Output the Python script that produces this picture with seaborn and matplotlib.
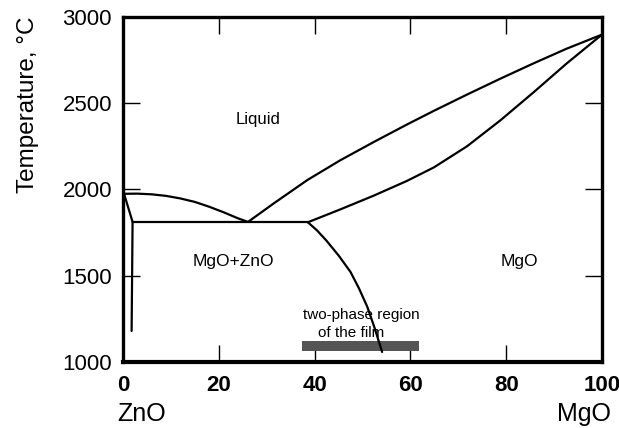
import matplotlib
matplotlib.use("Agg")
import matplotlib.pyplot as plt
import matplotlib.transforms as mtransforms
import seaborn as sns

# ZnO-MgO phase diagram: composition (mol% MgO) vs temperature (deg C)

# Liquidus on the ZnO-rich side (down to the eutectic)
liq_zno_x = [0, 3, 6, 9, 12, 15, 18, 21, 24, 26.1]
liq_zno_T = [1975, 1976, 1972, 1963, 1948, 1928, 1900, 1868, 1833, 1812]

# Liquidus on the MgO-rich side
liq_mgo_x = [26.1, 31.5, 38.5, 45.4, 52.4, 59.3, 64.9, 71.8, 78.75, 85.7, 92.6, 100]
liq_mgo_T = [1812, 1920, 2055, 2170, 2276, 2377, 2456, 2550, 2642, 2731, 2816, 2898]

# Solidus of the MgO solid solution
sol_mgo_x = [38.6, 45.4, 52.4, 59.3, 64.9, 71.8, 78.75, 85.7, 92.6, 100]
sol_mgo_T = [1810, 1885, 1965, 2050, 2128, 2250, 2400, 2563, 2730, 2898]

# Solvus of the MgO solid solution
solv_mgo_x = [38.6, 40.5, 42.4, 45.0, 47.5, 49.3, 51.0, 52.5, 54.1]
solv_mgo_T = [1810, 1763, 1706, 1618, 1522, 1425, 1320, 1200, 1058]

# ZnO-side solidus and solvus
sol_zno_x = [0.2, 2.0]
sol_zno_T = [1977, 1812]
solv_zno_x = [2.0, 1.8]
solv_zno_T = [1812, 1180]

# Eutectic isotherm
eut_x = [2.0, 38.6]
eut_T = [1812, 1812]

# Composition range of the film
film_x = [37.4, 61.7]
film_T = [1062, 1123]

x_ticks = [0, 20, 40, 60, 80, 100]
y_ticks = [1000, 1500, 2000, 2500, 3000]

sns.set_theme(style="ticks")
plt.rcParams["font.family"] = ["Liberation Sans", "DejaVu Sans"]
plt.rcParams["text.color"] = "black"
plt.rcParams["axes.labelcolor"] = "black"
plt.rcParams["xtick.color"] = "black"
plt.rcParams["ytick.color"] = "black"

fig = plt.figure(figsize=(6.19, 4.28), dpi=100)
ax = fig.add_axes([0.1987, 0.1542, 0.7738, 0.8061])

line_kw = dict(color="black", linewidth=1.6, sort=False, estimator=None, legend=False, ax=ax)
for xs, ts in [(liq_zno_x, liq_zno_T), (liq_mgo_x, liq_mgo_T), (sol_mgo_x, sol_mgo_T),
               (solv_mgo_x, solv_mgo_T), (sol_zno_x, sol_zno_T), (solv_zno_x, solv_zno_T),
               (eut_x, eut_T)]:
    sns.lineplot(x=xs, y=ts, **line_kw)

ax.fill_between(film_x, film_T[0], film_T[1], color="#555555", linewidth=0, zorder=1)

ax.set_xlim(0, 100)
ax.set_ylim(1000, 3000)
ax.set_xticks(x_ticks)
ax.set_yticks(y_ticks)
ax.set_xticklabels([str(v) for v in x_ticks], fontsize=16, fontweight="bold")
ax.set_yticklabels([str(v) for v in y_ticks], fontsize=16)
ax.tick_params(direction="in", length=12, width=1.0, top=True, right=True, colors="black")
ax.tick_params(axis="x", pad=9)
ax.tick_params(axis="y", pad=8)
for sp in ax.spines.values():
    sp.set_linewidth(2.4)
    sp.set_color("black")
ax.spines["bottom"].set_linewidth(3.0)

ax.set_ylabel("Temperature, °C", fontsize=17.5, color="black")
ax.yaxis.set_label_coords(-0.175, 0.745)

# Region labels
ax.text(28.1, 2380, "Liquid", fontsize=12, ha="center", va="baseline")
ax.text(23.0, 1557, "MgO+ZnO", fontsize=12.5, ha="center", va="baseline")
ax.text(82.7, 1557, "MgO", fontsize=12.5, ha="center", va="baseline")
ax.text(49.8, 1249, "two-phase region", fontsize=11, ha="center", va="baseline")
ax.text(47.7, 1147, "of the film", fontsize=11, ha="center", va="baseline")

# End-member names under the composition axis
trans = mtransforms.blended_transform_factory(ax.transData, ax.transAxes)
ax.text(3.9, -0.171, "ZnO", fontsize=18, ha="center", va="baseline", transform=trans)
ax.text(96.25, -0.171, "MgO", fontsize=18, ha="center", va="baseline", transform=trans)

fig.savefig("out.png", dpi=100, facecolor="white")
